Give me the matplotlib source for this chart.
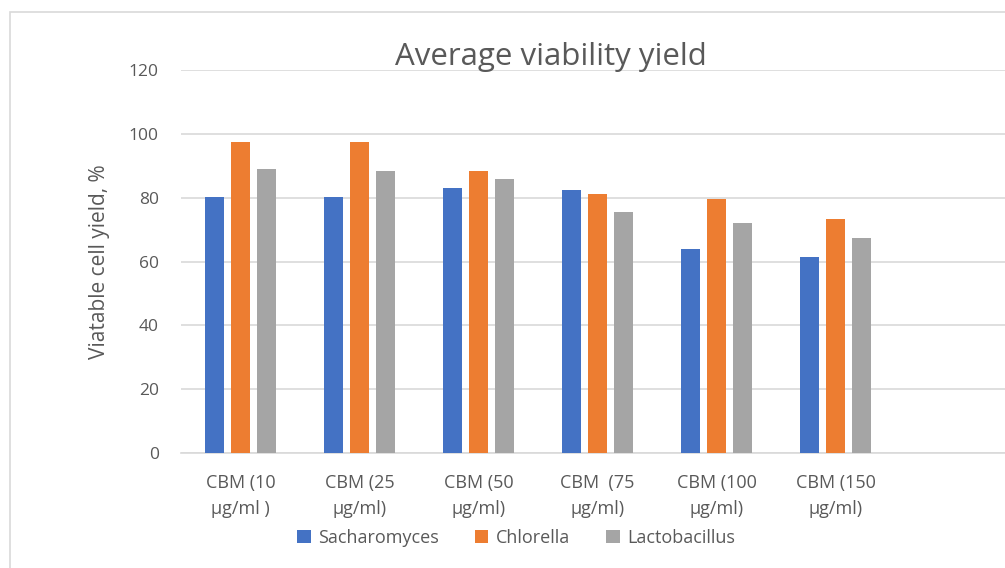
import matplotlib
matplotlib.use('Agg')
import matplotlib.pyplot as plt
import numpy as np
from matplotlib.patches import Rectangle

plt.rcParams['font.family'] = ['Open Sans', 'DejaVu Sans']

# data
categories = ['CBM (10\nμg/ml )', 'CBM (25\nμg/ml)', 'CBM (50\nμg/ml)',
              'CBM  (75\nμg/ml)', 'CBM (100\nμg/ml)', 'CBM (150\nμg/ml)']
sacharomyces = [80.3, 80.3, 83.1, 82.3, 64.0, 61.4]
chlorella = [97.3, 97.3, 88.5, 81.0, 79.7, 73.4]
lactobacillus = [89.1, 88.4, 85.7, 75.6, 72.2, 67.5]
series = [('Sacharomyces', sacharomyces, '#4472C4'),
          ('Chlorella', chlorella, '#ED7D31'),
          ('Lactobacillus', lactobacillus, '#A5A5A5')]
yticks = [0, 20, 40, 60, 80, 100, 120]

W, H = 1005, 568
fig = plt.figure(figsize=(W / 100, H / 100), dpi=100)

# chart area border (cut off on right/bottom like the screenshot)
fig.patches.append(Rectangle((10 / W, -0.1), 1.2, 1 - 12 / H + 0.1,
                             transform=fig.transFigure, fill=False,
                             edgecolor='#d9d9d9', linewidth=1.2))

# plot area spans 7 category slots, last one empty and partly off-image
left, right = 181, 1014
top, bottom = 70, 453
ax = fig.add_axes([left / W, 1 - bottom / H, (right - left) / W, (bottom - top) / H])

x = np.arange(len(categories))
bw = 0.16
step = 0.22
for i, (name, vals, col) in enumerate(series):
    ax.bar(x + (i - 1) * step, vals, width=bw, color=col, label=name, zorder=3)

ax.set_xlim(-0.5, 6.5)
ax.set_ylim(0, 120)
ax.set_yticks(yticks)
ax.set_xticks(x)
ax.set_xticklabels(categories, linespacing=1.6)
ax.tick_params(axis='y', length=0, labelsize=12.5, colors='#595959', pad=16)
ax.tick_params(axis='x', length=0, labelsize=13, colors='#595959', pad=15)
ax.grid(axis='y', color='#d9d9d9', linewidth=1.2, zorder=0)
for s in ['top', 'right', 'left']:
    ax.spines[s].set_visible(False)
ax.spines['bottom'].set_color('#d9d9d9')
ax.spines['bottom'].set_linewidth(1.2)

ax.set_ylabel('Viatable cell yield, %', fontsize=15, color='#595959')
ax.yaxis.set_label_coords((110 - left) / (right - left), 0.5)

fig.text(551 / W, 1 - 57 / H, 'Average viability yield', fontsize=22.5,
         color='#595959', ha='center', va='center')

fig.legend(loc='center', bbox_to_anchor=(516 / W, 1 - 538 / H), ncol=3,
           frameon=False, fontsize=13, labelcolor='#595959',
           handlelength=0.75, handleheight=0.75, handletextpad=0.4,
           columnspacing=2.0)

fig.savefig('out.png', dpi=100)
